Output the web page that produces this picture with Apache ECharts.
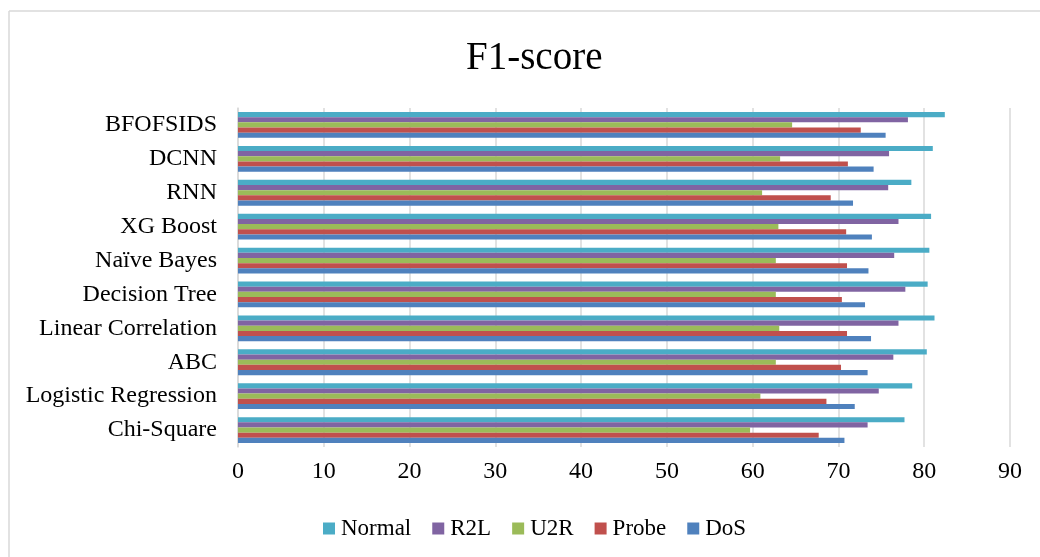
<!DOCTYPE html>
<html>
<head>
<meta charset="utf-8">
<script src="https://cdn.jsdelivr.net/npm/echarts@6/dist/echarts.min.js"></script>
<style>
html,body{margin:0;padding:0;background:#fff;}
#c{width:1040px;height:557px;}
</style>
</head>
<body>
<div id="c"></div>
<script>
const categories = ['Chi-Square','Logistic Regression','ABC','Linear Correlation','Decision Tree','Naïve Bayes','XG Boost','RNN','DCNN','BFOFSIDS'];
const normal = [77.7, 78.6, 80.3, 81.2, 80.4, 80.6, 80.8, 78.5, 81.0, 82.4];
const r2l    = [73.4, 74.7, 76.4, 77.0, 77.8, 76.5, 77.0, 75.8, 75.9, 78.1];
const u2r    = [59.7, 60.9, 62.7, 63.1, 62.7, 62.7, 63.0, 61.1, 63.2, 64.6];
const probe  = [67.7, 68.6, 70.3, 71.0, 70.4, 71.0, 70.9, 69.1, 71.1, 72.6];
const dos    = [70.7, 71.9, 73.4, 73.8, 73.1, 73.5, 73.9, 71.7, 74.1, 75.5];
const legendOrder = ['Normal','R2L','U2R','Probe','DoS'];

const font = "'Liberation Serif', 'Times New Roman', serif";
const chart = echarts.init(document.getElementById('c'), null, {renderer:'canvas'});
function s(name, data, color){
  return {name, type:'bar', data, barGap:'0%', barCategoryGap:'24%',
    itemStyle:{color}, animation:false};
}
chart.setOption({
  animation:false,
  title:{text:'F1-score', left:461, top:34,
    textStyle:{fontFamily:font, fontSize:39, fontWeight:'normal', color:'#000'}},
  graphic:[
    {type:'line', shape:{x1:9, y1:11, x2:1040, y2:11}, style:{stroke:'#d9d9d9', lineWidth:1.5}},
    {type:'line', shape:{x1:9, y1:11, x2:9, y2:557}, style:{stroke:'#d9d9d9', lineWidth:1.5}}
  ],
  legend:{data:legendOrder, top:512, left:318, icon:'rect', itemWidth:12, itemHeight:12, itemGap:21,
    textStyle:{fontFamily:font, fontSize:23, color:'#000', padding:[0,0,0,1]}},
  grid:{left:238, right:30, top:108, bottom:110, containLabel:false},
  xAxis:{type:'value', min:0, max:90, interval:10,
    axisLine:{show:false}, axisTick:{show:false},
    splitLine:{lineStyle:{color:'#d9d9d9', width:1.5}},
    axisLabel:{fontFamily:font, fontSize:24, color:'#000', margin:13}},
  yAxis:{type:'category', data:categories,
    axisLine:{show:true, lineStyle:{color:'#d9d9d9', width:1.5}}, axisTick:{show:false},
    axisLabel:{fontFamily:font, fontSize:24, color:'#000', margin:21, padding:[4,0,0,0]}},
  series:[
    s('Normal', normal, '#4BACC6'),
    s('R2L', r2l, '#8064A2'),
    s('U2R', u2r, '#9BBB59'),
    s('Probe', probe, '#C0504D'),
    s('DoS', dos, '#4F81BD')
  ]
});
</script>
</body>
</html>
